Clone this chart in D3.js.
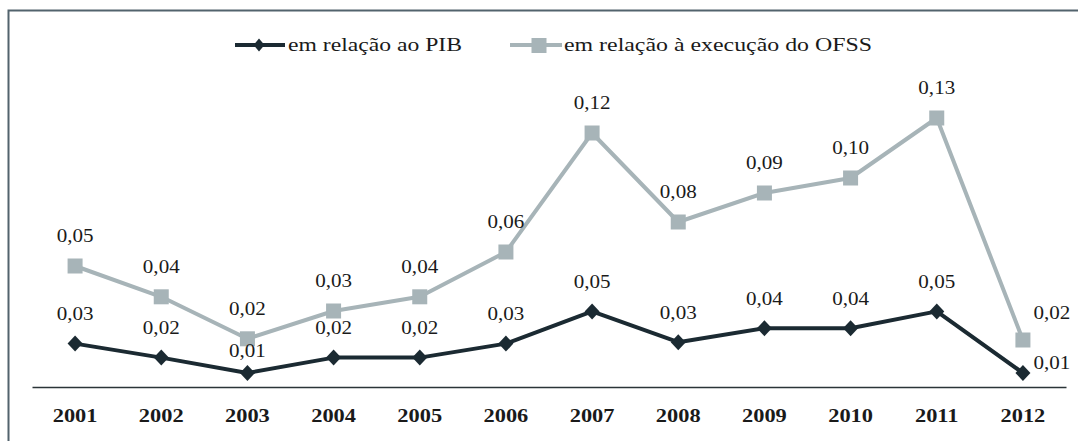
<!DOCTYPE html>
<html>
<head>
<meta charset="utf-8">
<script src="https://cdn.jsdelivr.net/npm/d3@7"></script>
<style>
body { margin: 0; background: #fff; }
text { font-family: "Liberation Serif", "Times New Roman", serif; }
</style>
</head>
<body>
<svg id="chart" width="1078" height="441"></svg>
<script>
// data
const years = ["2001", "2002", "2003", "2004", "2005", "2006", "2007", "2008", "2009", "2010", "2011", "2012"];
const pibValues = [0.031, 0.021, 0.010, 0.021, 0.021, 0.031, 0.054, 0.032, 0.042, 0.042, 0.054, 0.010];
const ofssValues = [0.054, 0.0386, 0.0176, 0.0315, 0.0386, 0.061, 0.1205, 0.076, 0.0905, 0.098, 0.128, 0.017];
const seriesNames = ["em relação ao PIB", "em relação à execução do OFSS"];

const W = 1078, H = 441;
const darkColor = "#1b2a32";
const greyColor = "#a7b4b8";

let svg = d3.select("#chart");

// frame (right and bottom edges run off the picture)
svg.append("rect")
    .attr("x", 8.5).attr("y", 10.5)
    .attr("width", W + 10).attr("height", H + 10)
    .attr("fill", "none")
    .attr("stroke", "#52636d")
    .attr("stroke-width", 2);

let x = d3.scaleBand().domain(years).range([32, 1066]);
let yPib = d3.scaleLinear().domain([0, 0.06]).range([387, 303]);
let yOfss = d3.scaleLinear().domain([0, 0.14]).range([374, 94]);

let cx = function(d, i) { return x(years[i]) + x.bandwidth() / 2; };
let fmt = function(v) { return d3.format(".2f")(v).replace(".", ","); };

// x axis: only the line and the year labels
let xAxis = svg.append("g")
    .attr("transform", "translate(0,387)")
    .call(d3.axisBottom(x).tickSize(0).tickPadding(0));
xAxis.select(".domain").attr("stroke", "#2b3438").attr("stroke-width", 1.5);
xAxis.selectAll(".tick text").remove();

svg.append("g").selectAll("text")
    .data(years)
    .enter()
    .append("text")
    .attr("transform", function(d) {
        return "translate(" + (x(d) + x.bandwidth() / 2) + ",415) scale(1.18,1)";
    })
    .attr("text-anchor", "middle")
    .attr("dy", "0.35em")
    .attr("font-size", 19)
    .attr("font-weight", "bold")
    .attr("fill", "#1a1a1a")
    .text(function(d) { return d; });

function diamond(w, h) {
    return "M0," + (-h) + "L" + w + ",0L0," + h + "L" + (-w) + ",0Z";
}

// OFSS series
svg.append("path")
    .datum(ofssValues)
    .attr("fill", "none")
    .attr("stroke", greyColor)
    .attr("stroke-width", 4)
    .attr("stroke-linejoin", "round")
    .attr("d", d3.line().x(cx).y(function(d) { return yOfss(d); }));

svg.append("g").selectAll("rect")
    .data(ofssValues)
    .enter()
    .append("rect")
    .attr("x", function(d, i) { return cx(d, i) - 7.5; })
    .attr("y", function(d) { return yOfss(d) - 7.5; })
    .attr("width", 15).attr("height", 15)
    .attr("fill", greyColor);

// PIB series
svg.append("path")
    .datum(pibValues)
    .attr("fill", "none")
    .attr("stroke", darkColor)
    .attr("stroke-width", 4)
    .attr("stroke-linejoin", "round")
    .attr("d", d3.line().x(cx).y(function(d) { return yPib(d); }));

svg.append("g").selectAll("path")
    .data(pibValues)
    .enter()
    .append("path")
    .attr("transform", function(d, i) { return "translate(" + cx(d, i) + "," + yPib(d) + ")"; })
    .attr("d", diamond(7.5, 8))
    .attr("fill", darkColor);

// data labels; the last point gets its label on the right
function addLabels(values, yScale, lastDy, nudges) {
    svg.append("g").selectAll("text")
        .data(values)
        .enter()
        .append("text")
        .attr("transform", function(d, i) {
            let dx = 0, dy = -30;
            if (i == values.length - 1) { dx = 29; dy = lastDy; }
            if (nudges[i] !== undefined) dy = nudges[i];
            return "translate(" + (cx(d, i) + dx) + "," + (yScale(d) + dy) + ") scale(1.17,1)";
        })
        .attr("text-anchor", "middle")
        .attr("dy", "0.35em")
        .attr("font-size", 18)
        .attr("fill", "#1a1a1a")
        .text(function(d) { return fmt(d); });
}
addLabels(ofssValues, yOfss, -27, {});
addLabels(pibValues, yPib, -10, {2: -22});

// legend
let legend = svg.append("g");
legend.append("line")
    .attr("x1", 235).attr("x2", 285).attr("y1", 45).attr("y2", 45)
    .attr("stroke", darkColor).attr("stroke-width", 4);
legend.append("path")
    .attr("transform", "translate(259,45)")
    .attr("d", diamond(5.5, 6.5))
    .attr("fill", darkColor);
legend.append("text")
    .attr("x", 288).attr("y", 45).attr("dy", "0.35em")
    .attr("font-size", 18)
    .attr("textLength", 174).attr("lengthAdjust", "spacingAndGlyphs")
    .attr("fill", "#1a1a1a")
    .text(seriesNames[0]);

legend.append("line")
    .attr("x1", 510).attr("x2", 562).attr("y1", 45).attr("y2", 45)
    .attr("stroke", greyColor).attr("stroke-width", 4);
legend.append("rect")
    .attr("x", 531.5).attr("y", 38).attr("width", 15).attr("height", 15)
    .attr("fill", greyColor);
legend.append("text")
    .attr("x", 564).attr("y", 45).attr("dy", "0.35em")
    .attr("font-size", 18)
    .attr("textLength", 308).attr("lengthAdjust", "spacingAndGlyphs")
    .attr("fill", "#1a1a1a")
    .text(seriesNames[1]);
</script>
</body>
</html>
